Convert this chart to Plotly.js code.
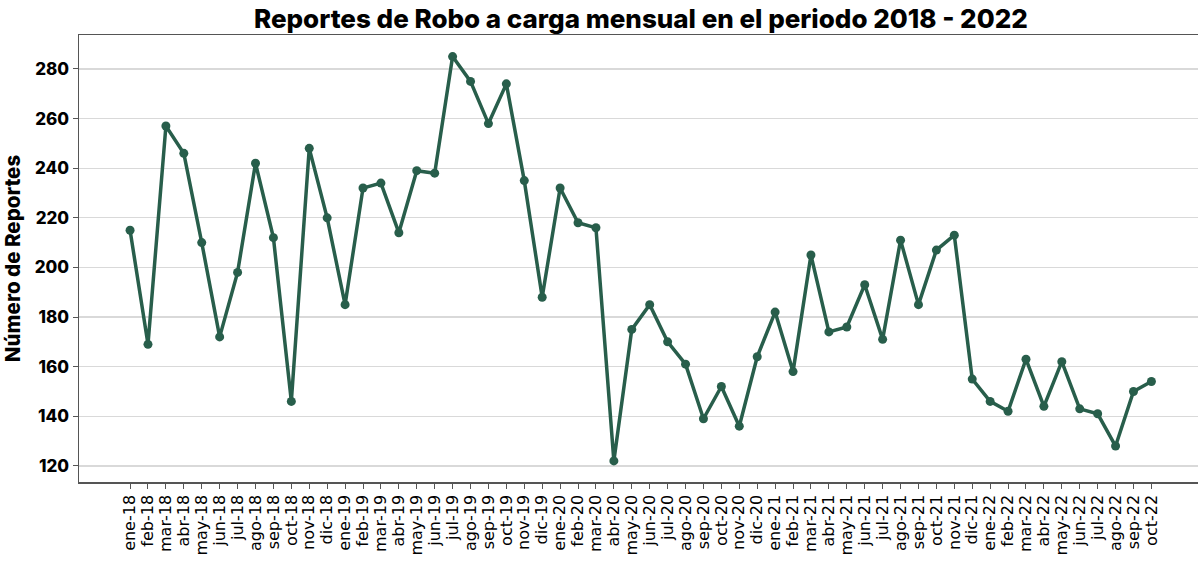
<!DOCTYPE html>
<html>
<head>
<meta charset="utf-8">
<script src="https://cdn.plot.ly/plotly-3.0.1.min.js"></script>
<style>html,body{margin:0;padding:0;background:#fff;}#chart{width:1198px;height:561px;}</style>
</head>
<body>
<div id="chart"></div>
<script>
const months = ["ene-18","feb-18","mar-18","abr-18","may-18","jun-18","jul-18","ago-18","sep-18","oct-18","nov-18","dic-18",
"ene-19","feb-19","mar-19","abr-19","may-19","jun-19","jul-19","ago-19","sep-19","oct-19","nov-19","dic-19",
"ene-20","feb-20","mar-20","abr-20","may-20","jun-20","jul-20","ago-20","sep-20","oct-20","nov-20","dic-20",
"ene-21","feb-21","mar-21","abr-21","may-21","jun-21","jul-21","ago-21","sep-21","oct-21","nov-21","dic-21",
"ene-22","feb-22","mar-22","abr-22","may-22","jun-22","jul-22","ago-22","sep-22","oct-22"];
const reportes = [215,169,257,246,210,172,198,242,212,146,248,220,
185,232,234,214,239,238,285,275,258,274,235,188,
232,218,216,122,175,185,170,161,139,152,136,164,
182,158,205,174,176,193,171,211,185,207,213,155,
146,142,163,144,162,143,141,128,150,154];
const yTicks = [120,140,160,180,200,220,240,260,280];

const trace = {
  x: months, y: reportes, type: 'scatter', mode: 'lines+markers',
  line: {color: '#285e4b', width: 3.5},
  marker: {color: '#285e4b', size: 9},
  hoverinfo: 'x+y'
};
const layout = {
  width: 1198, height: 561,
  margin: {l: 79, r: 0, t: 35, b: 79},
  paper_bgcolor: '#fff', plot_bgcolor: '#fff',
  showlegend: false,
  title: {text: 'Reportes de Robo a carga mensual en el periodo 2018 - 2022',
    font: {family: 'Inter, sans-serif', size: 26, color: '#000', weight: 800},
    x: 0.535, xanchor: 'center', y: 0.983, yanchor: 'top'},
  xaxis: {
    type: 'category', range: [-2.85, 59.6],
    tickmode: 'array', tickvals: months, ticktext: months,
    tickangle: -90, tickfont: {family: 'DejaVu Sans', size: 16, color: '#000'},
    ticks: 'outside', ticklen: 5, tickcolor: '#555', tickwidth: 1,
    showline: true, linecolor: '#555', linewidth: 1.5, mirror: true,
    showgrid: false, zeroline: false
  },
  yaxis: {
    range: [113.5, 293.7], tickvals: yTicks, ticktext: yTicks.map(String),
    tickfont: {family: 'Inter, sans-serif', size: 17, color: '#000', weight: 800},
    ticks: 'outside', ticklen: 5, tickcolor: '#555', tickwidth: 1,
    showline: true, linecolor: '#555', linewidth: 1.5,
    showgrid: true, gridcolor: '#d9d9d9', gridwidth: 1.3, zeroline: false,
    title: {text: 'Número de Reportes', font: {family: 'Inter, sans-serif', size: 20.5, color: '#000', weight: 800}, standoff: 8}
  }
};
Plotly.newPlot('chart', [trace], layout, {displayModeBar: false, staticPlot: true});
</script>
</body>
</html>
